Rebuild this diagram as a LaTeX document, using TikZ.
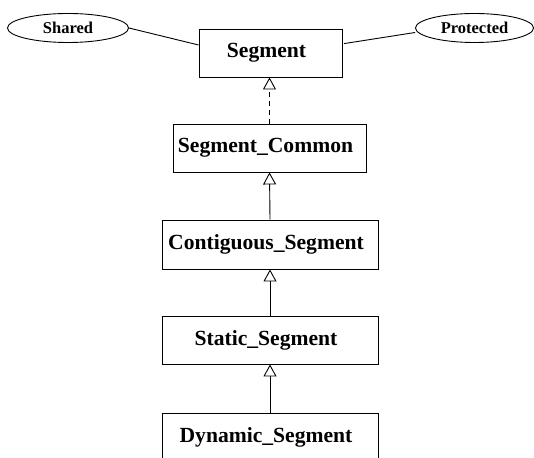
\documentclass[tikz,border=0pt]{standalone}
\usepackage{fontspec}
\setmainfont{Liberation Serif}
\usetikzlibrary{arrows.meta,shapes.geometric}
\begin{document}
\begin{tikzpicture}[x=1pt,y=-1pt,
  classbox/.style={draw, line width=0.9pt, rectangle, inner sep=0pt,
    font=\fontsize{21.6}{24}\selectfont\bfseries,
    execute at end node={\kern8pt}},
  tagoval/.style={draw, line width=0.9pt, ellipse, inner sep=0pt,
    font=\fontsize{16.5}{19}\selectfont\bfseries},
  link/.style={line width=0.9pt},
  inherits/.style={line width=0.9pt, -{Triangle[open, length=12pt, width=13pt]}},
  realizes/.style={inherits, dash pattern=on 5pt off 4pt}]
\clip (0,0) rectangle (534,457);
\fill[white] (0,0) rectangle (534,457);

% class hierarchy
\node[classbox, minimum width=143pt, minimum height=48pt] (seg) at (270.5,53) {Segment};
\node[classbox, minimum width=193pt, minimum height=48pt] (common) at (269.5,148) {Segment\_Common};
\node[classbox, minimum width=216pt, minimum height=49pt] (contig) at (270,244.5) {Contiguous\_Segment};
\node[classbox, minimum width=216pt, minimum height=48pt] (static) at (270,340) {Static\_Segment};
\node[classbox, minimum width=216pt, minimum height=48pt] (dynamic) at (270,437) {Dynamic\_Segment};

% attached properties
\node[tagoval, minimum width=121pt, minimum height=29pt] (shared) at (68,28) {Shared};
\node[tagoval, minimum width=118pt, minimum height=29pt] (prot) at (474.5,28) {Protected};

\draw[link] (shared.east) -- (seg.west |- 0,45);
\draw[link] (prot.west |- 0,32.5) -- (344,43.6);

% generalisation arrows
\draw[realizes] (common.north) -- (seg.south -| common.north);
\draw[inherits] (contig.north) -- (common.south);
\draw[inherits] (static.north) -- (contig.south);
\draw[inherits] (dynamic.north) -- (static.south);
\end{tikzpicture}
\end{document}
